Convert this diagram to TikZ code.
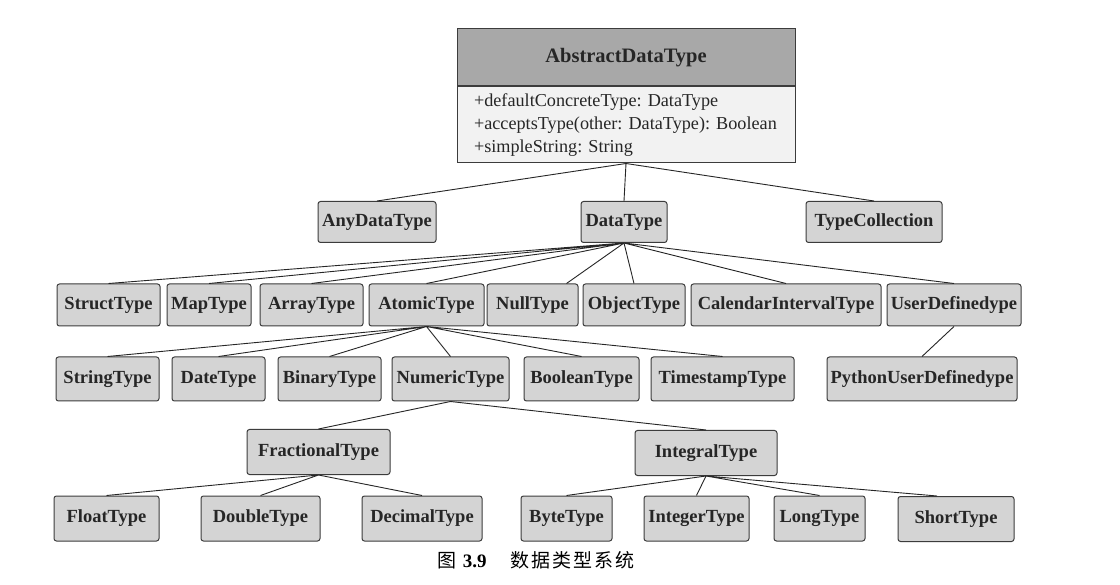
\documentclass[tikz,border=0pt]{standalone}
\usepackage{fontspec}
\setmainfont{Liberation Serif}
\newfontfamily\cjk[LetterSpace=10]{Noto Sans CJK SC}
\usetikzlibrary{positioning}
\definecolor{boxgray}{RGB}{212,212,212}
\definecolor{headgray}{RGB}{168,168,168}
\definecolor{attrgray}{RGB}{242,242,242}
\definecolor{edgegray}{RGB}{60,60,60}
\tikzset{
  tbox/.style={draw=edgegray,fill=boxgray,rounded corners=2.5pt,line width=1pt,
    inner xsep=1pt,inner ysep=0pt,text=black!85,
    font=\fontsize{18.5}{21}\selectfont\bfseries},
  row2/.style={tbox,minimum height=41pt},
  row3/.style={tbox,minimum height=42pt},
  row4/.style={tbox,minimum height=44pt},
  row5/.style={tbox,minimum height=45pt},
  link/.style={draw=black!85,line width=0.9pt},
}

\begin{document}
\begin{tikzpicture}[x=1pt,y=-1pt]
  \useasboundingbox[fill=white] (0,0) rectangle (1120,585);
  % the abstract class
  \node[tbox,fill=headgray,rounded corners=0pt,minimum width=338pt,minimum height=57pt,
    font=\fontsize{20.5}{23}\selectfont\bfseries] (adt) at (626,57.5) {AbstractDataType};
  \node[tbox,fill=attrgray,rounded corners=0pt,minimum width=338pt,minimum height=76pt,
    below=0pt of adt,inner xsep=17pt,text width=304pt,align=left,
    font=\fontsize{18.2}{23}\selectfont\frenchspacing] (adtattr)
    {+defaultConcreteType: DataType\\+acceptsType(other: DataType): Boolean\\+simpleString: String};
  % second row
  \node[row2,minimum width=118pt] (any) at (377,222) {AnyDataType};
  \node[row2,minimum width=86pt] (data) at (624,222) {DataType};
  \node[row2,minimum width=136pt] (tcoll) at (874,222) {TypeCollection};
  % third row
  \node[row3,minimum width=103pt] (struct) at (108.5,305) {StructType};
  \node[row3,minimum width=84pt] (map) at (209,305) {MapType};
  \node[row3,minimum width=103pt] (array) at (311.5,305) {ArrayType};
  \node[row3,minimum width=115pt] (atomic) at (426.5,305) {AtomicType};
  \node[row3,minimum width=91pt] (null) at (532.5,305) {NullType};
  \node[row3,minimum width=102pt] (object) at (634,305) {ObjectType};
  \node[row3,minimum width=190pt] (calendar) at (786,305) {CalendarIntervalType};
  \node[row3,minimum width=134pt] (udt) at (954,305) {UserDefinedype};
  % fourth row
  \node[row4,minimum width=103pt] (string) at (107.5,379) {StringType};
  \node[row4,minimum width=93pt] (date) at (218.5,379) {DateType};
  \node[row4,minimum width=103pt] (binary) at (329.5,379) {BinaryType};
  \node[row4,minimum width=117pt] (numeric) at (450.5,379) {NumericType};
  \node[row4,minimum width=115pt] (boolean) at (581.5,379) {BooleanType};
  \node[row4,minimum width=143pt] (timestamp) at (722.5,379) {TimestampType};
  \node[row4,minimum width=190pt] (pyudt) at (922,379) {PythonUserDefinedype};
  % numeric types
  \node[row5,minimum width=143pt] (fractional) at (318.5,452) {FractionalType};
  \node[row5,minimum width=142pt] (integral) at (706,453) {IntegralType};
  \node[row5,minimum width=105pt] (float) at (106.5,518.5) {FloatType};
  \node[row5,minimum width=119pt] (double) at (260.5,518.5) {DoubleType};
  \node[row5,minimum width=120pt] (decimal) at (422,518.5) {DecimalType};
  \node[row5,minimum width=91pt] (byte) at (566.5,518.5) {ByteType};
  \node[row5,minimum width=105pt] (integer) at (696.5,518.5) {IntegerType};
  \node[row5,minimum width=91pt] (long) at (819.5,518.5) {LongType};
  \node[row5,minimum width=116pt] (short) at (956,519) {ShortType};
  % connectors
  \draw[link] (adtattr.south) -- (any.north) (adtattr.south) -- (data.north)
    (adtattr.south) -- (tcoll.north);
  \draw[link] (data.south) -- (struct.north) (data.south) -- (map.north)
    (data.south) -- (array.north) (data.south) -- (atomic.north)
    (data.south) -- ([xshift=-12pt]null.north east) (data.south) -- (object.north)
    (data.south) -- (calendar.north) (data.south) -- (udt.north);
  \draw[link] (atomic.south) -- (string.north) (atomic.south) -- (date.north)
    (atomic.south) -- (binary.north) (atomic.south) -- (numeric.north)
    (atomic.south) -- (boolean.north) (atomic.south) -- (timestamp.north);
  \draw[link] (udt.south) -- (pyudt.north);
  \draw[link] (numeric.south) -- (fractional.north) (numeric.south) -- (integral.north);
  \draw[link] (fractional.south) -- (float.north) (fractional.south) -- (double.north)
    (fractional.south) -- (decimal.north);
  \draw[link] (integral.south) -- (byte.north) (integral.south) -- (integer.north)
    (integral.south) -- (long.north) (integral.south) -- ([xshift=-19pt]short.north);
  % caption
  \node[font=\fontsize{19}{22}\selectfont] (caption) at (536,560)
    {{\cjk 图}\hspace{4pt}\textbf{\fontsize{19}{22}\selectfont 3.9}\hspace{24pt}{\cjk 数据类型系统}};
\end{tikzpicture}
\end{document}
